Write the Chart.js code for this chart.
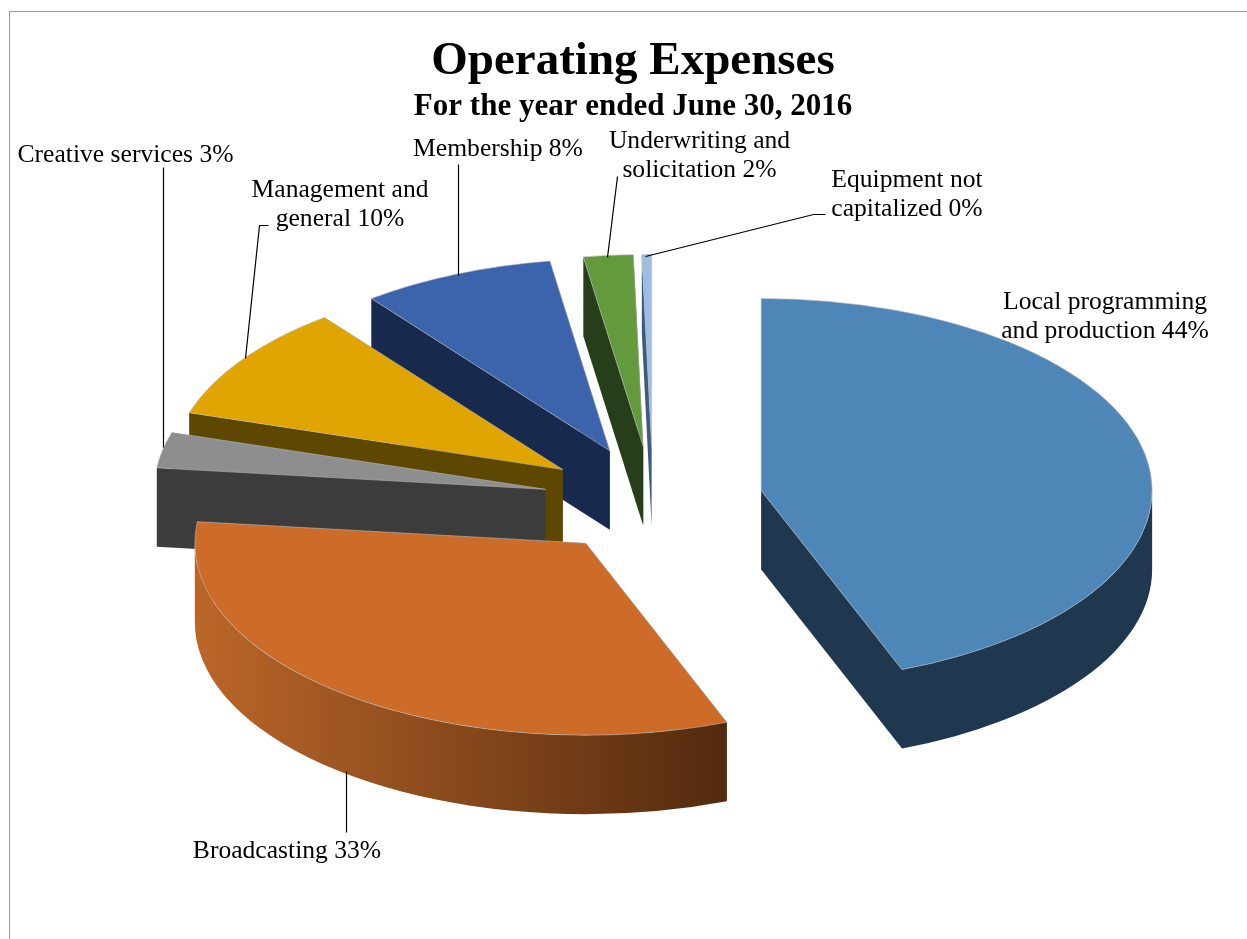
<!DOCTYPE html>
<html>
<head>
<meta charset="utf-8">
<title>Operating Expenses</title>
<script src="https://cdn.jsdelivr.net/npm/chart.js@4/dist/chart.umd.js"></script>
<style>
  html, body { margin: 0; padding: 0; background: #fff; overflow: hidden; }
  #wrap { position: relative; width: 1247px; height: 939px; }
  #frame { position: absolute; left: 9px; top: 11px; width: 1238px; height: 928px;
           border-left: 1px solid #999; border-top: 1px solid #999; box-sizing: border-box; }
  canvas { position: absolute; left: 0; top: 0; }
</style>
</head>
<body>
<div id="wrap">
  <div id="frame"></div>
  <canvas id="pie" width="1247" height="939"></canvas>
</div>
<script>
// values, percent of total
const categories = ["Local programming and production", "Broadcasting", "Creative services",
  "Management and general", "Membership", "Underwriting and solicitation", "Equipment not capitalized"];
const values = [44.2, 32.7, 3.0, 9.8, 8.0, 2.05, 0.4];
const labelLines = [
  ["Local programming", "and production 44%"],
  ["Broadcasting 33%"],
  ["Creative services 3%"],
  ["Management and", "general 10%"],
  ["Membership 8%"],
  ["Underwriting and", "solicitation 2%"],
  ["Equipment not", "capitalized 0%"]
];

const topColors = ["#4F86B8", "#CD6B29", "#8E8E8E", "#E0A500", "#3B64AC", "#639A3E", "#9DBDE4"];
const sideFrom = ["#1F3850", "#BC6629", "#3C3C3C", "#5E4700", "#17294D", "#263E19", "#3E5A7C"];
const sideTo = ["#1F3850", "#532A0F", "#3C3C3C", "#5E4700", "#17294D", "#263E19", "#3E5A7C"];

// where the label text sits: x center, y of first line
const labelPos = [[1105, 302], [287, 851], [125.5, 155], [340, 190], [498, 149], [699.5, 141], [907, 180]];
const leaders = [
  null,
  [[346, 771], [346, 832]],
  [[163, 167], [163, 447]],
  [[268, 225], [259, 225], [245, 358]],
  [[458, 164], [458, 275]],
  [[617, 176], [607, 257]],
  [[825, 214], [813, 214], [645, 256]]
];

const tilt = 0.491;      // squash of the pie
const depth = 79;        // thickness
const explode = 110;     // every slice is pulled out by this much
const shiftX = 20;       // pie sits right of the title center

const pie3d = {
  id: "pie3d",
  beforeDatasetsDraw(chart) {
    const ctx = chart.ctx;
    const arcs = chart.getDatasetMeta(0).data;

    // back to front, so the big slices cover the small ones
    for (let i = arcs.length - 1; i >= 0; i--) {
      const arc = arcs[i];
      const mid = (arc.startAngle + arc.endAngle) / 2;
      const x = arc.x + shiftX + Math.cos(mid) * explode;
      const y = arc.y + Math.sin(mid) * explode * tilt;
      const R = arc.outerRadius;
      const sx = x + Math.cos(arc.startAngle) * R, sy = y + Math.sin(arc.startAngle) * R * tilt;
      const ex = x + Math.cos(arc.endAngle) * R, ey = y + Math.sin(arc.endAngle) * R * tilt;

      const grad = ctx.createLinearGradient(x - R, 0, x + Math.cos(arc.startAngle) * R, 0);
      grad.addColorStop(0, sideFrom[i]);
      grad.addColorStop(1, sideTo[i]);
      ctx.fillStyle = grad;

      // the two cut faces
      [[sx, sy], [ex, ey]].forEach(p => {
        ctx.beginPath();
        ctx.moveTo(x, y);
        ctx.lineTo(p[0], p[1]);
        ctx.lineTo(p[0], p[1] + depth);
        ctx.lineTo(x, y + depth);
        ctx.closePath();
        ctx.fill();
      });

      // outer rim, only the part that faces the viewer
      const a0 = Math.max(arc.startAngle, 0);
      const a1 = Math.min(arc.endAngle, Math.PI);
      if (a1 > a0) {
        ctx.beginPath();
        ctx.ellipse(x, y, R, R * tilt, 0, a0, a1);
        ctx.lineTo(x + Math.cos(a1) * R, y + Math.sin(a1) * R * tilt + depth);
        ctx.ellipse(x, y + depth, R, R * tilt, 0, a1, a0, true);
        ctx.closePath();
        ctx.fill();
      }

      // top face, drawn by the arc element itself in squashed space
      ctx.save();
      ctx.translate(x, y);
      ctx.scale(1, tilt);
      ctx.translate(-arc.x, -arc.y);
      arc.draw(ctx);
      ctx.restore();
    }

    // leader lines and labels
    ctx.strokeStyle = "#000";
    ctx.lineWidth = 1.2;
    leaders.forEach(pts => {
      if (!pts) return;
      ctx.beginPath();
      pts.forEach((p, k) => k ? ctx.lineTo(p[0] + 0.5, p[1] + 0.5) : ctx.moveTo(p[0] + 0.5, p[1] + 0.5));
      ctx.stroke();
    });
    ctx.fillStyle = "#000";
    ctx.font = "25.6px 'Liberation Serif'";
    ctx.textAlign = "center";
    ctx.textBaseline = "middle";
    labelLines.forEach((lines, i) => {
      lines.forEach((t, k) => ctx.fillText(t, labelPos[i][0], labelPos[i][1] + k * 29));
    });
    return false; // default draw is replaced by the above
  }
};

new Chart(document.getElementById("pie"), {
  type: "pie",
  plugins: [pie3d],
  data: {
    labels: categories,
    datasets: [{
      data: values,
      backgroundColor: topColors,
      borderColor: "rgba(185,185,185,0.8)",
      borderWidth: 1,
      radius: 391
    }]
  },
  options: {
    responsive: false,
    animation: false,
    layout: { padding: { left: 19, top: 0, bottom: 66 } },
    plugins: {
      legend: { display: false },
      tooltip: { enabled: false },
      title: {
        display: true,
        text: "Operating Expenses",
        color: "#000",
        font: { family: "'Liberation Serif'", size: 47, weight: "bold", lineHeight: 1.1 },
        padding: { top: 36, bottom: 2 }
      },
      subtitle: {
        display: true,
        text: "For the year ended June 30, 2016",
        color: "#000",
        font: { family: "'Liberation Serif'", size: 31, weight: "bold", lineHeight: 1.1 },
        padding: { top: 0, bottom: 4 }
      }
    }
  }
});
</script>
</body>
</html>
